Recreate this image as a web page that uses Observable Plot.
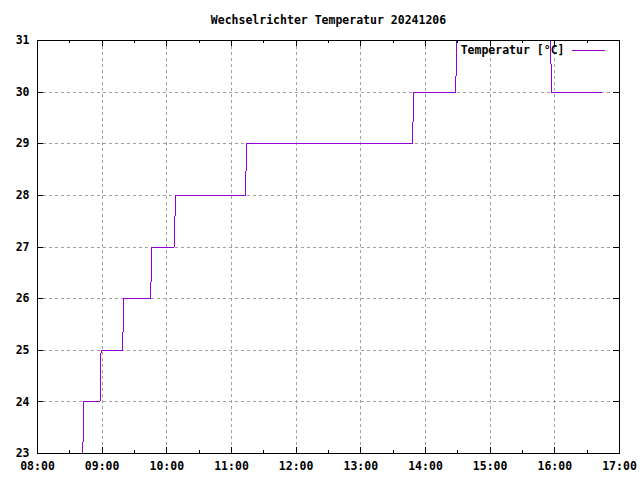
<!DOCTYPE html>
<html><head><meta charset="utf-8">
<script src="https://cdn.jsdelivr.net/npm/d3@7"></script>
<script src="https://cdn.jsdelivr.net/npm/@observablehq/plot@0.6"></script>
<style>body{margin:0;background:#fff}</style>
</head><body><div id="chart"></div>
<script>
// ---- data ----
const title = "Wechselrichter Temperatur 20241206";
const seriesLabel = "Temperatur [°C]";
const times = ["08:42","08:43","08:58","08:59","09:19","09:20","09:45","09:46","10:07","10:08","11:13","11:14","13:48","13:49","14:28","14:29","15:56","15:57","16:43"];
const temps = [23,24,24,25,25,26,26,27,27,28,28,29,29,30,30,31,31,30,30];
const xTickLabels = ["08:00","09:00","10:00","11:00","12:00","13:00","14:00","15:00","16:00","17:00"];
const xMinorLabels = ["08:30","09:30","10:30","11:30","12:30","13:30","14:30","15:30","16:30"];
const yTicks = [23,24,25,26,27,28,29,30,31];

const t = s => { const [h,m] = s.split(":").map(Number); return new Date(Date.UTC(2024,11,6,h,m)); };
const series = times.map((s,i) => ({time: t(s), temp: temps[i]}));
const xMajor = xTickLabels.map(t);
const xMinor = xMinorLabels.map(t);
const xGrid = xMajor.slice(1,-1);
const yGrid = yTicks.slice(1,-1);

const W=640,H=480,ML=37,MR=21,MT=40,MB=27;
const PW=W-ML-MR, PH=H-MT-MB;
const purple = "#9400d3";
const gridStyle = {stroke:"#a0a0a0", strokeOpacity:1, strokeDasharray:"3,3", shapeRendering:"crispEdges"};

const chart = Plot.plot({
  width:W, height:H, marginLeft:ML, marginRight:MR, marginTop:MT, marginBottom:MB,
  x:{type:"utc", domain:[t("08:00"), t("17:00")]},
  y:{domain:[23,31]},
  style:{fontFamily:"'DejaVu Sans Mono', monospace", fontSize:"11.5px", fontWeight:"bold", background:"#fff", color:"#000", overflow:"visible"},
  marks:[
    Plot.ruleX(xGrid, gridStyle),
    Plot.ruleY(yGrid, gridStyle),
    Plot.line(series, {x:"time", y:"temp", stroke:purple, strokeWidth:1, shapeRendering:"crispEdges"}),
    // inward ticks, all four sides
    Plot.ruleX(xMajor, {insetTop:PH-6, stroke:"#000", shapeRendering:"crispEdges"}),
    Plot.ruleX(xMajor, {insetBottom:PH-6, stroke:"#000", shapeRendering:"crispEdges"}),
    Plot.ruleX(xMinor, {insetTop:PH-3, stroke:"#000", shapeRendering:"crispEdges"}),
    Plot.ruleX(xMinor, {insetBottom:PH-3, stroke:"#000", shapeRendering:"crispEdges"}),
    Plot.ruleY(yTicks, {insetRight:PW-6, stroke:"#000", shapeRendering:"crispEdges"}),
    Plot.ruleY(yTicks, {insetLeft:PW-6, stroke:"#000", shapeRendering:"crispEdges"}),
    Plot.axisX({ticks:xMajor, tickFormat:d3.utcFormat("%H:%M"), tickSize:0, tickPadding:8, label:null}),
    Plot.axisY({ticks:yTicks, tickFormat:d=>String(d), tickSize:0, tickPadding:8, label:null}),
    Plot.text([title], {frameAnchor:"top", dy:-20, lineAnchor:"middle", fill:"#000"}),
    Plot.text([seriesLabel], {frameAnchor:"top-right", dx:-(W-MR-564), dy:10, textAnchor:"end", lineAnchor:"middle", fill:"#000"}),
    Plot.ruleY([31], {dy:10, insetLeft:572-ML, insetRight:(W-MR)-605, stroke:purple, shapeRendering:"crispEdges"}),
    Plot.frame({stroke:"#000", shapeRendering:"crispEdges"})
  ]
});
document.getElementById("chart").append(chart);
</script>
</body></html>
